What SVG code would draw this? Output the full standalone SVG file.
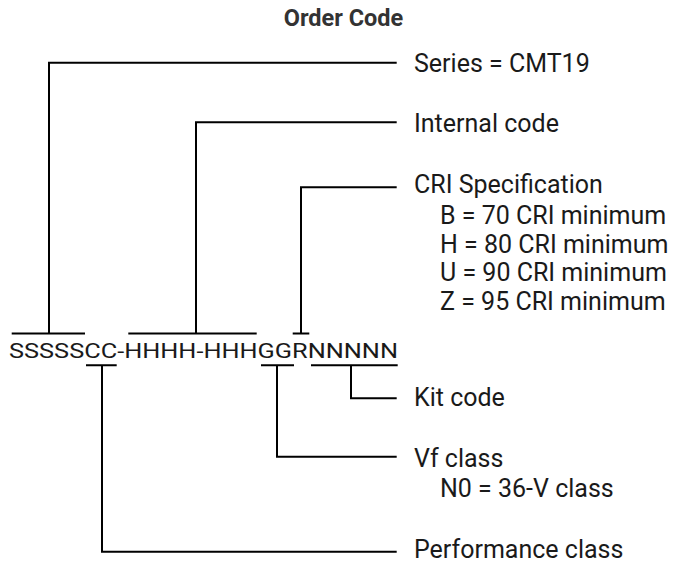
<svg xmlns="http://www.w3.org/2000/svg" width="678" height="571" viewBox="0 0 678 571">
<style>
.lbl{font-family:Roboto,"Liberation Sans",sans-serif;font-size:25px;fill:#1a1a1a}
.title{font-family:Roboto,"Liberation Sans",sans-serif;font-size:23.5px;font-weight:bold;fill:#333}
.code{font-family:Roboto,"Liberation Sans",sans-serif;font-size:25px;fill:#1a1a1a}
.ln{fill:none;stroke:#000;stroke-width:2;stroke-linejoin:miter}
</style>
<rect width="678" height="571" fill="#fff"/>
<g id="title"><text class="title" x="343.5" y="26" text-anchor="middle">Order Code</text></g>
<g id="code"><text class="code" x="9" y="0" transform="translate(0,358) scale(1,0.845)" textLength="389" lengthAdjust="spacingAndGlyphs">SSSSSCC-HHHH-HHHGGRNNNNN</text></g>
<g id="series"><text class="lbl" x="414" y="72">Series = CMT19</text></g>
<g id="internal"><text class="lbl" x="414" y="132">Internal code</text></g>
<g id="cri">
<text class="lbl" x="414" y="193">CRI Specification</text>
<text class="lbl" x="440" y="224">B = 70 CRI minimum</text>
<text class="lbl" x="440" y="252.5">H = 80 CRI minimum</text>
<text class="lbl" x="440" y="281">U = 90 CRI minimum</text>
<text class="lbl" x="440" y="310">Z = 95 CRI minimum</text>
</g>
<g id="kit"><text class="lbl" x="414" y="406">Kit code</text></g>
<g id="vf">
<text class="lbl" x="414" y="467">Vf class</text>
<text class="lbl" x="440" y="497">N0 = 36-V class</text>
</g>
<g id="perf"><text class="lbl" x="414" y="558">Performance class</text></g>
<g id="connectors">
<path class="ln" d="M11.7 333.5H85M49 333.5V62.7H396.7"/>
<path class="ln" d="M128.3 333.5H256.7M196 333.5V122.3H396.7"/>
<path class="ln" d="M292.7 333.5H309.3M301 333.5V187.3H396.7"/>
<path class="ln" d="M86 365.3H116.7M102 365.3V551.7H396.7"/>
<path class="ln" d="M261 365.3H294M277 365.3V456.7H396.7"/>
<path class="ln" d="M311 365.3H397.7M351 365.3V398.3H396.7"/>
</g>
</svg>
